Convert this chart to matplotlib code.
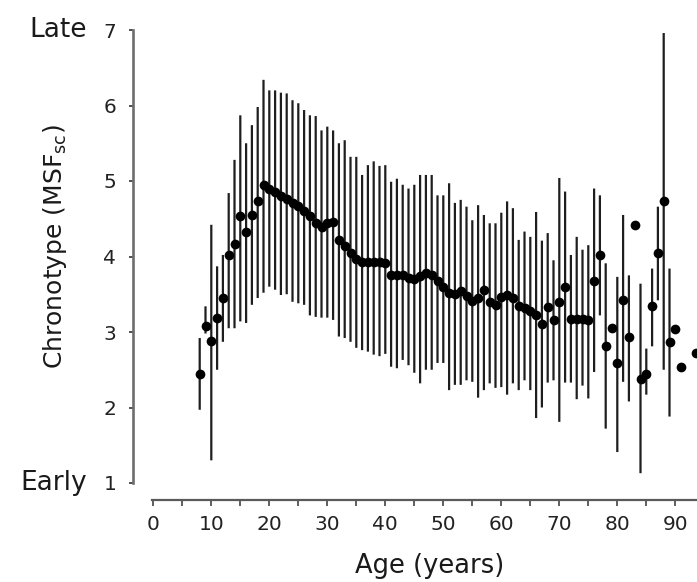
""" Chronotype (MSF_sc) versus age: mean per year with error bars
"""

import matplotlib

matplotlib.use("Agg")
import matplotlib.pyplot as plt
import matplotlib.transforms as mtransforms

# Mean chronotype per age (dots)
point_age = list(range(8, 92)) + [93.5]
point_msf = [
    2.44, 3.08, 2.88, 3.18, 3.45, 4.02, 4.17, 4.53, 4.32, 4.55,  # 8-17
    4.73, 4.95, 4.90, 4.85, 4.80, 4.76, 4.71, 4.67, 4.60, 4.53,  # 18-27
    4.45, 4.39, 4.45, 4.46, 4.22, 4.14, 4.05, 3.97, 3.93, 3.93,  # 28-37
    3.93, 3.93, 3.92, 3.76, 3.75, 3.75, 3.72, 3.70, 3.74, 3.78,  # 38-47
    3.76, 3.67, 3.60, 3.52, 3.50, 3.54, 3.48, 3.41, 3.45, 3.56,  # 48-57
    3.40, 3.36, 3.47, 3.49, 3.45, 3.35, 3.32, 3.28, 3.23, 3.10,  # 58-67
    3.33, 3.16, 3.40, 3.59, 3.17, 3.17, 3.17, 3.16, 3.67, 4.02,  # 68-77
    2.81, 3.05, 2.59, 3.42, 2.93, 4.42, 2.38, 2.45, 3.34, 4.04,  # 78-87
    4.73, 2.87, 3.04, 2.54,  # 88-91
    2.72,
]

# Spread per age (vertical bars), no bar for 79, 83 and above 89
bar_age = list(range(8, 79)) + [80, 81, 82, 84, 85, 86, 87, 88, 89]
bar_top = [
    2.92, 3.34, 4.42, 3.87, 4.02, 4.84, 5.28, 5.87, 5.50, 5.74,  # 8-17
    5.98, 6.34, 6.20, 6.20, 6.17, 6.16, 6.07, 6.03, 5.94, 5.87,  # 18-27
    5.86, 5.67, 5.72, 5.67, 5.50, 5.54, 5.32, 5.32, 5.08, 5.21,  # 28-37
    5.26, 5.20, 5.21, 4.99, 5.03, 4.95, 4.90, 4.95, 5.08, 5.08,  # 38-47
    5.08, 4.81, 4.81, 4.97, 4.71, 4.75, 4.66, 4.48, 4.68, 4.55,  # 48-57
    4.44, 4.44, 4.58, 4.73, 4.64, 4.22, 4.33, 4.26, 4.59, 4.21,  # 58-67
    4.31, 3.95, 5.04, 4.86, 4.02, 4.26, 4.09, 4.15, 4.90, 4.81,  # 68-77
    3.91,  # 78
    3.73, 4.55, 3.75, 3.64, 2.78, 3.84, 4.66, 6.96, 3.84,
]
bar_bottom = [
    1.97, 2.98, 1.30, 2.50, 2.87, 3.05, 3.05, 3.14, 3.12, 3.36,  # 8-17
    3.45, 3.52, 3.60, 3.56, 3.49, 3.50, 3.40, 3.38, 3.36, 3.22,  # 18-27
    3.20, 3.19, 3.19, 3.16, 2.94, 2.92, 2.87, 2.79, 2.76, 2.74,  # 28-37
    2.70, 2.68, 2.71, 2.54, 2.52, 2.63, 2.56, 2.46, 2.32, 2.50,  # 38-47
    2.50, 2.59, 2.59, 2.23, 2.30, 2.30, 2.36, 2.34, 2.13, 2.23,  # 48-57
    2.32, 2.26, 2.27, 2.17, 2.32, 2.23, 2.36, 2.23, 1.86, 2.00,  # 58-67
    2.33, 2.36, 1.81, 2.33, 2.33, 2.11, 2.29, 2.12, 2.47, 3.22,  # 68-77
    1.72,  # 78
    1.41, 2.34, 2.08, 1.13, 2.17, 2.81, 3.42, 2.50, 1.88,
]

x_ticks = list(range(0, 95, 5))
x_ticklabels = [str(t) if t % 10 == 0 else "" for t in x_ticks]
y_ticks = [1, 2, 3, 4, 5, 6, 7]

if __name__ == "__main__":
    W, H = 697, 582
    fig = plt.figure(figsize=(W / 100, H / 100), dpi=100)

    # axes box in pixels: y spine at x=133, x spine at y=500, top at y=30
    left, right, top, bottom = 133, 697, 30, 500
    ax = fig.add_axes([left / W, 1 - bottom / H, (right - left) / W, (bottom - top) / H])

    # 5.8 px per year, age 0 at x=153
    px_per_year = 5.8
    ax.set_xlim((left - 153.3) / px_per_year, (right - 153.3) / px_per_year)
    # 75.5 px per unit, 1 at y=483
    ax.set_ylim(1 - (bottom - 483) / 75.5, 7)

    ax.vlines(bar_age, bar_bottom, bar_top, colors="#1e1e1e", linewidth=1.6, snap=False, zorder=2)
    ax.plot(point_age, point_msf, "o", color="black", markersize=7, markeredgewidth=0, zorder=3)

    for side in ("top", "right"):
        ax.spines[side].set_visible(False)
    ax.spines["left"].set_bounds(1, 7)
    ax.spines["left"].set_color("#6e6e6e")
    ax.spines["left"].set_linewidth(1.9)
    ax.spines["bottom"].set_bounds(-0.3, ax.get_xlim()[1])
    ax.spines["bottom"].set_color("#5a5a5a")
    ax.spines["bottom"].set_linewidth(1.6)

    ax.set_xticks(x_ticks)
    ax.set_xticklabels(x_ticklabels)
    ax.set_yticks(y_ticks)
    ax.tick_params(axis="x", length=4.5, width=1.1, color="#333333", pad=6, labelsize=14.5, labelcolor="#222222")
    ax.tick_params(axis="y", length=3, width=1.1, color="#222222", pad=9, labelsize=14.5, labelcolor="#222222")

    # Late / Early markers next to the y ticks
    trans = mtransforms.blended_transform_factory(fig.transFigure, ax.transData)
    ax.text(87 / W, 7, "Late", transform=trans, ha="right", va="center", fontsize=19, color="#1a1a1a")
    ax.text(87 / W, 1, "Early", transform=trans, ha="right", va="center", fontsize=19, color="#1a1a1a")

    fig.text(55 / W, 1 - 246.5 / H, r"Chronotype (MSF$_{\mathregular{sc}}$)", rotation=90,
             ha="center", va="center", fontsize=18, color="#1a1a1a")
    fig.text(430 / W, 1 - 566 / H, "Age (years)", ha="center", va="center", fontsize=18.5, color="#1a1a1a")

    fig.savefig("out.png", dpi=100)
